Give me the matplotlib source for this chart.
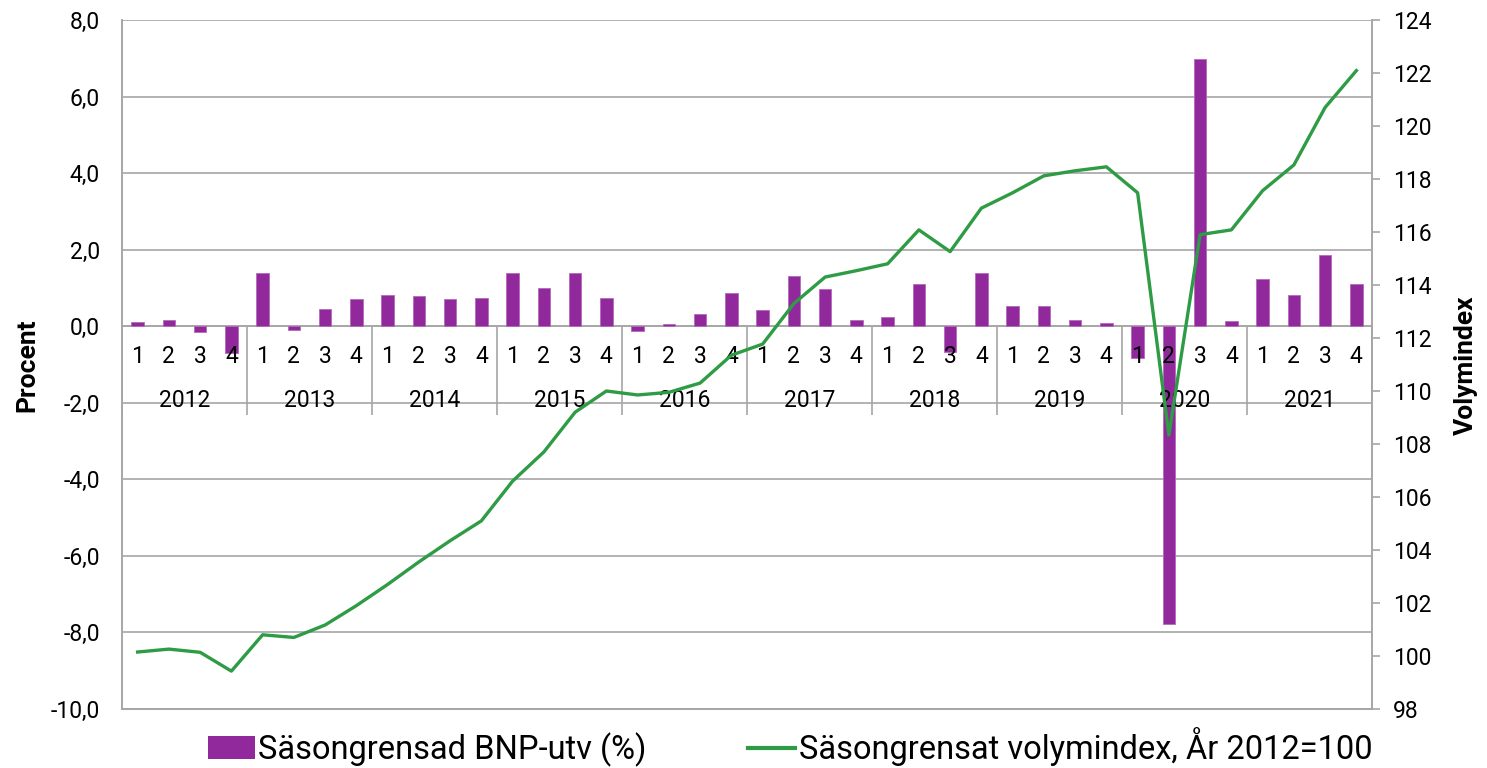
import matplotlib.pyplot as plt
from matplotlib.lines import Line2D
from matplotlib.patches import Patch

plt.rcParams['font.family'] = ['Roboto', 'DejaVu Sans']

years = ['2012', '2013', '2014', '2015', '2016', '2017', '2018', '2019', '2020', '2021']
quarters = ['1', '2', '3', '4']

# Säsongrensad BNP-utveckling, procent per kvartal
bnp_utv = [0.10, 0.15, -0.15, -0.70,
           1.40, -0.10, 0.45, 0.70,
           0.81, 0.80, 0.71, 0.75,
           1.40, 1.00, 1.40, 0.73,
           -0.12, 0.07, 0.31, 0.87,
           0.42, 1.30, 0.97, 0.17,
           0.24, 1.09, -0.67, 1.38,
           0.52, 0.52, 0.16, 0.09,
           -0.82, -7.78, 6.97, 0.13,
           1.24, 0.82, 1.85, 1.11]

# Säsongrensat volymindex, år 2012=100
volymindex = [100.15, 100.26, 100.14, 99.43,
              100.80, 100.70, 101.17, 101.90,
              102.70, 103.55, 104.35, 105.10,
              106.60, 107.70, 109.20, 110.00,
              109.85, 109.95, 110.30, 111.35,
              111.77, 113.30, 114.30, 114.54,
              114.80, 116.08, 115.26, 116.90,
              117.48, 118.12, 118.31, 118.46,
              117.48, 108.34, 115.90, 116.08,
              117.56, 118.53, 120.70, 122.09]

bar_color = '#91289B'
line_color = '#2E9B45'
grid_color = '#A6A6A6'
fs = 16.5

n = len(bnp_utv)
x = list(range(n))

fig = plt.figure(figsize=(14.87, 7.68), dpi=100)
ax = fig.add_axes([122 / 1487, 1 - 709 / 768, 1250 / 1487, 689 / 768])
ax2 = ax.twinx()

ax.set_zorder(1)
ax2.set_zorder(2)
ax2.patch.set_visible(False)

ax.bar(x, bnp_utv, width=0.4, color=bar_color, edgecolor='#B36BBA', linewidth=0.6, zorder=3)
ax2.plot(x, volymindex, color=line_color, lw=2.4, zorder=4)

ax.set_xlim(-0.5, n - 0.5)
ax.set_ylim(-10, 8)
ax.set_yticks(range(-10, 9, 2))
ax.set_yticklabels(['{:.1f}'.format(v).replace('.', ',') for v in range(-10, 9, 2)], fontsize=fs)
ax.yaxis.grid(True, color=grid_color, lw=1.2, zorder=0)
ax.tick_params(axis='y', length=0, pad=16)
ax.set_xticks([])

ax2.set_ylim(98, 124)
ax2.set_yticks(range(98, 125, 2))
ax2.tick_params(axis='y', labelsize=fs, length=6, width=1.2, color=grid_color, pad=9)

for a in (ax, ax2):
    for s in a.spines.values():
        s.set_color(grid_color)
        s.set_linewidth(1.2)
    a.spines['top'].set_visible(False)

# kategoriaxel vid noll
ax.axhline(0, color=grid_color, lw=1.2, zorder=2)
ax.vlines([-0.5 + 4 * k for k in range(len(years) + 1)], -2.32, 0, color=grid_color, lw=1.2, zorder=2)
for i in x:
    ax.text(i, -0.78, quarters[i % 4], ha='center', va='center', fontsize=fs, zorder=5)
for k, yr in enumerate(years):
    ax.text(4 * k + 1.5, -1.95, yr, ha='center', va='center', fontsize=fs, zorder=5)

fig.text(27 / 1487, 1 - 365 / 768, 'Procent', rotation=90, ha='center', va='center',
         fontsize=19, fontweight='bold')
fig.text(1466 / 1487, 1 - 365 / 768, 'Volymindex', rotation=90, ha='center', va='center',
         fontsize=19, fontweight='bold')

handles = [Patch(facecolor=bar_color, edgecolor='none'),
           Line2D([0], [0], color=line_color, lw=3)]
labels = ['Säsongrensad BNP-utv (%)', 'Säsongrensat volymindex, År 2012=100']
fig.legend(handles, labels, loc='center', bbox_to_anchor=(790 / 1487, 1 - 747 / 768),
           ncol=2, frameon=False, fontsize=23.5, handlelength=1.45, handleheight=0.7,
           handletextpad=0.1, columnspacing=3.1)

fig.savefig('out.png', dpi=100)
